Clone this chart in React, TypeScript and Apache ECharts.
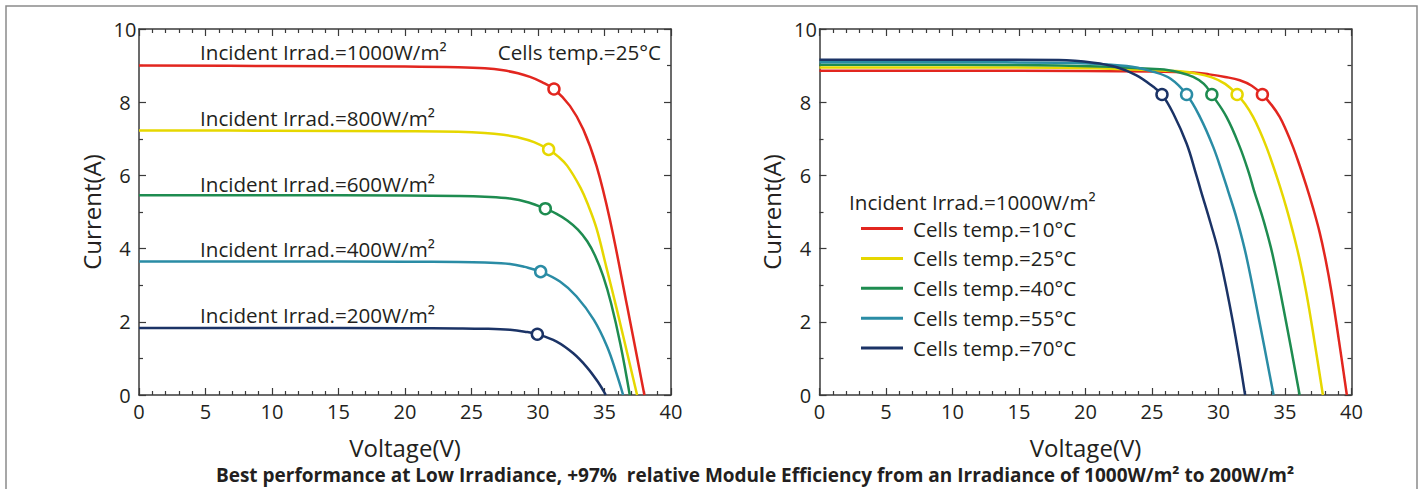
import React, { useEffect, useRef } from "react";
import * as echarts from "echarts";

// ---------- Left chart: I-V at different irradiance (cells 25°C) ----------
const irradNames = [
  "Incident Irrad.=1000W/m²",
  "Incident Irrad.=800W/m²",
  "Incident Irrad.=600W/m²",
  "Incident Irrad.=400W/m²",
  "Incident Irrad.=200W/m²",
];
const irr1000 = [[0, 9.0], [10, 8.99], [20, 8.975], [24, 8.955], [26, 8.925], [27.4, 8.87], [28.5, 8.79], [29.4, 8.69], [30.3, 8.55], [31.2, 8.36], [32.4, 7.9], [33.4, 7.26], [34.4, 6.26], [35.4, 4.8], [36.7, 2.43], [38.0, 0]];
const irr800 = [[0, 7.23], [10, 7.22], [20, 7.205], [24, 7.19], [26, 7.16], [27.4, 7.11], [28.5, 7.04], [29.7, 6.91], [30.8, 6.71], [31.5, 6.52], [32.2, 6.26], [33.2, 5.66], [33.8, 5.16], [34.4, 4.55], [35.1, 3.55], [35.9, 2.38], [37.45, 0]];
const irr600 = [[0, 5.46], [10, 5.46], [20, 5.45], [24, 5.44], [26, 5.42], [27.9, 5.37], [29.3, 5.26], [30.55, 5.09], [31.4, 4.95], [32.2, 4.77], [33.0, 4.52], [33.7, 4.2], [34.3, 3.8], [34.9, 3.25], [35.5, 2.5], [36.2, 1.38], [36.9, 0]];
const irr400 = [[0, 3.65], [10, 3.65], [20, 3.64], [24, 3.635], [26, 3.62], [27.9, 3.58], [29, 3.5], [30.2, 3.37], [31.65, 3.1], [32.9, 2.69], [34.2, 2.05], [35.2, 1.32], [35.9, 0.59], [36.4, 0]];
const irr200 = [[0, 1.83], [10, 1.83], [20, 1.825], [24, 1.82], [26, 1.81], [27.9, 1.78], [29.0, 1.73], [29.95, 1.66], [31.4, 1.46], [32.65, 1.14], [33.65, 0.77], [34.5, 0.36], [35.1, 0]];
const irradCurves = [irr1000, irr800, irr600, irr400, irr200];
const irradMpp = [[31.2, 8.36], [30.8, 6.71], [30.55, 5.09], [30.2, 3.37], [29.95, 1.66]];
const leftNote = "Cells temp.=25°C";

// ---------- Right chart: I-V at different cell temperatures (1000W/m²) ----------
const tempNames = [
  "Cells temp.=10°C",
  "Cells temp.=25°C",
  "Cells temp.=40°C",
  "Cells temp.=55°C",
  "Cells temp.=70°C",
];
const t10 = [[0, 8.86], [15, 8.86], [25, 8.84], [28.1, 8.81], [29.3, 8.76], [30.5, 8.69], [31.6, 8.6], [32.5, 8.45], [33.3, 8.21], [34.0, 7.92], [34.6, 7.6], [35.1, 7.22], [35.6, 6.78], [36.1, 6.27], [36.6, 5.72], [37.1, 5.12], [37.6, 4.45], [38.05, 3.7], [38.5, 2.8], [39.05, 1.5], [39.65, 0]];
const t25 = [[0, 8.95], [10, 8.95], [18, 8.94], [26.8, 8.85], [28.2, 8.79], [29.5, 8.68], [30.5, 8.5], [31.4, 8.21], [32.0, 7.95], [32.6, 7.6], [33.1, 7.22], [33.6, 6.78], [34.1, 6.27], [34.6, 5.72], [35.1, 5.12], [35.6, 4.45], [36.1, 3.7], [36.6, 2.8], [37.2, 1.5], [37.85, 0]];
const t40 = [[0, 9.02], [10, 9.02], [18, 9.0], [25.6, 8.9], [27, 8.82], [28.1, 8.69], [28.9, 8.5], [29.5, 8.21], [30.6, 7.6], [31.6, 6.78], [32.3, 6.05], [32.66, 5.6], [33.4, 4.75], [34.1, 3.78], [35.1, 1.96], [36.1, 0]];
const t55 = [[0, 9.09], [10, 9.09], [18, 9.08], [23.1, 8.99], [25.1, 8.83], [26.4, 8.64], [27.6, 8.21], [28.6, 7.6], [29.6, 6.78], [30.3, 6.05], [30.7, 5.6], [31.4, 4.78], [32.1, 3.78], [33.1, 1.96], [34.14, 0]];
const t70 = [[0, 9.16], [10, 9.16], [18, 9.15], [20.6, 9.08], [22.3, 8.96], [23.8, 8.74], [25.1, 8.42], [25.75, 8.21], [26.6, 7.69], [27.6, 6.87], [28.3, 6.05], [28.66, 5.6], [29.4, 4.7], [30.09, 3.78], [31.1, 1.96], [32.0, 0]];
const tempCurves = [t10, t25, t40, t55, t70];
const tempMpp = [[33.3, 8.21], [31.4, 8.21], [29.5, 8.21], [27.6, 8.21], [25.75, 8.21]];
const rightHeader = "Incident Irrad.=1000W/m²";

const xTitle = "Voltage(V)";
const yTitle = "Current(A)";
const footer = "Best performance at Low Irradiance, +97%  relative Module Efficiency from an Irradiance of 1000W/m² to 200W/m²";

const colors = ["#e2261f", "#e6d700", "#1e8c50", "#2a8ca5", "#1b3366"];
const FONT = "'Open Sans', 'Noto Sans', sans-serif";
const TEXT = "#231f20";
const AXIS = "#3a3a3a";

export default function App() {
  const ref = useRef<HTMLDivElement>(null);

  useEffect(() => {
    document.body.style.margin = "0";
    const chart = echarts.init(ref.current!, undefined, { renderer: "svg" });

    const grids = [
      { left: 139, top: 29, width: 532, height: 366 },
      { left: 819.5, top: 29, width: 532, height: 366 },
    ];

    const xAxes: any[] = [];
    const yAxes: any[] = [];
    [0, 1].forEach((g) => {
      const common = {
        type: "value",
        gridIndex: g,
        axisLine: { show: true, onZero: false, lineStyle: { color: AXIS, width: 1.5 } },
        axisTick: { show: true, inside: true, length: 7, lineStyle: { color: AXIS, width: 1.2 } },
        minorTick: { show: true, length: 4, lineStyle: { color: AXIS, width: 1.2 } },
        splitLine: { show: false },
        minorSplitLine: { show: false },
      };
      const xCommon = { ...common, min: 0, max: 40, interval: 5, minorTick: { ...common.minorTick, splitNumber: 5 } };
      const yCommon = { ...common, min: 0, max: 10, interval: 2, minorTick: { ...common.minorTick, splitNumber: 2 } };
      xAxes.push({
        ...xCommon,
        position: "bottom",
        axisLabel: { show: true, margin: 6, fontSize: 20, color: TEXT, fontFamily: FONT },
        name: xTitle,
        nameLocation: "middle",
        nameGap: 40,
        nameTextStyle: { fontSize: 24, color: TEXT, fontFamily: FONT },
      });
      xAxes.push({ ...xCommon, position: "top", axisLabel: { show: false } });
      yAxes.push({
        ...yCommon,
        position: "left",
        axisLabel: { show: true, margin: 14, align: "center", fontSize: 20, color: TEXT, fontFamily: FONT },
        name: yTitle,
        nameLocation: "middle",
        nameGap: 36,
        nameRotate: 90,
        nameTextStyle: { fontSize: 24, color: TEXT, fontFamily: FONT },
      });
      yAxes.push({ ...yCommon, position: "right", axisLabel: { show: false } });
    });

    const lineSeries = (name: string, d: number[][], i: number, axis: number) => ({
      name,
      type: "line",
      xAxisIndex: axis,
      yAxisIndex: axis,
      data: d,
      smooth: 0.4,
      showSymbol: false,
      lineStyle: { color: colors[i], width: 2.5 },
      itemStyle: { color: colors[i] },
      z: 2,
    });
    const mppSeries = (name: string, pts: number[][], axis: number) => ({
      name,
      type: "scatter",
      xAxisIndex: axis,
      yAxisIndex: axis,
      symbol: "circle",
      symbolSize: 11,
      z: 4,
      data: pts.map((p, i) => ({
        value: p,
        itemStyle: { color: "#ffffff", opacity: 1, borderColor: colors[i], borderWidth: 2.5 },
      })),
    });

    const series: any[] = [];
    irradCurves.forEach((d, i) => series.push(lineSeries(irradNames[i], d, i, 0)));
    series.push(mppSeries("MPP (irradiance)", irradMpp, 0));
    tempCurves.forEach((d, i) => series.push(lineSeries(tempNames[i], d, i, 2)));
    series.push(mppSeries("MPP (temperature)", tempMpp, 2));

    const annoStyle = { fontSize: 20.6, fill: TEXT, fontFamily: FONT, textVerticalAlign: "middle" };
    const leftY = [52, 118, 183.5, 249, 314.5];
    const graphics: any[] = [
      {
        type: "rect",
        shape: { x: 6, y: 6, width: 1411, height: 520 },
        style: { fill: "none", stroke: "#8a8a8a", lineWidth: 1.5 },
        silent: true,
        z: -1,
      },
      ...irradNames.map((t, i) => ({
        type: "text",
        x: 200,
        y: leftY[i],
        style: { ...annoStyle, text: t, textAlign: "left" },
      })),
      { type: "text", x: 661, y: 52, style: { ...annoStyle, text: leftNote, textAlign: "right" } },
      { type: "text", x: 849, y: 201.5, style: { ...annoStyle, text: rightHeader, textAlign: "left" } },
      {
        type: "text",
        x: 755,
        y: 475,
        style: { text: footer, fontSize: 19, fontWeight: "bold", fill: TEXT, fontFamily: FONT, textAlign: "center", textVerticalAlign: "middle" },
      },
    ];

    chart.setOption({
      animation: false,
      backgroundColor: "#ffffff",
      grid: grids,
      xAxis: xAxes,
      yAxis: yAxes,
      legend: {
        data: tempNames,
        orient: "vertical",
        left: 861,
        top: 218,
        padding: 0,
        itemGap: 8.9,
        itemWidth: 42,
        itemHeight: 3,
        icon: "rect",
        selectedMode: false,
        textStyle: { fontSize: 20.6, color: TEXT, fontFamily: FONT, padding: [0, 0, 0, 5] },
      },
      graphic: graphics,
      series,
    });

    return () => chart.dispose();
  }, []);

  return <div ref={ref} style={{ width: 1420, height: 489, position: "absolute", left: 0, top: 0 }} />;
}
